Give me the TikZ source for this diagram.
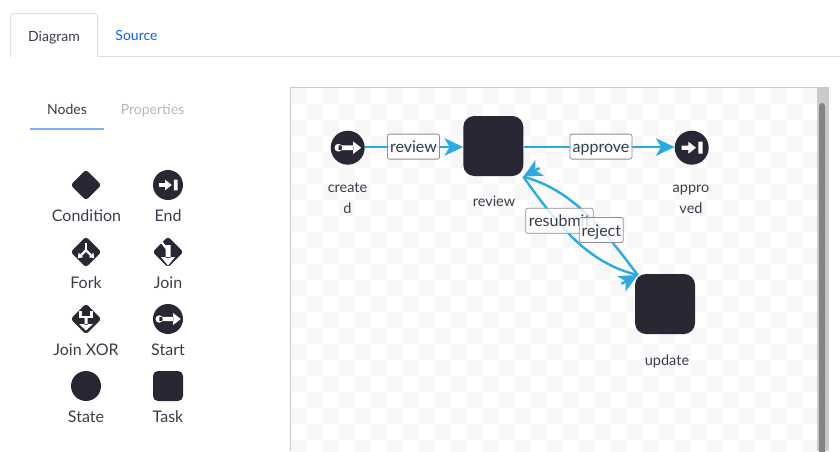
\documentclass[tikz,border=0pt]{standalone}
\usepackage{fontspec}
\setmainfont{Lato}
\usetikzlibrary{arrows.meta,shapes.geometric}
\definecolor{ink}{HTML}{272833}
\definecolor{txt}{HTML}{3B3C4A}
\definecolor{lnk}{HTML}{0B5FFF}
\definecolor{muted}{HTML}{B5B7C4}
\definecolor{under}{HTML}{80ACFF}
\definecolor{edgeblue}{HTML}{29ABE2}
\definecolor{tabline}{HTML}{DEDFE3}
\definecolor{checker}{HTML}{F7F7F7}
\definecolor{frameline}{HTML}{CBCBCB}
\definecolor{thumb}{HTML}{828686}
\definecolor{labelline}{HTML}{8F8F8F}
\tikzset{
  x=1pt,y=-1pt,
  txtlabel/.style={anchor=base,inner sep=0,text=txt,font=\fontsize{14}{17}\selectfont},
  pallabel/.style={anchor=base,inner sep=0,text=txt,font=\fontsize{16}{18}\selectfont},
  canvaslabel/.style={anchor=base,inner sep=0,text=txt,font=\fontsize{14.5}{17}\selectfont},
  palcircle/.style={circle,fill=ink,inner sep=0,minimum size=30},
  paldiamond/.style={diamond,aspect=1,fill=ink,inner sep=0,minimum size=31,rounded corners=3},
  palsquare/.style={rectangle,fill=ink,inner sep=0,minimum size=30,rounded corners=5},
  bigcircle/.style={circle,fill=ink,inner sep=0,minimum size=34},
  bigsquare/.style={rectangle,fill=ink,inner sep=0,minimum size=60,rounded corners=11},
  flowline/.style={draw=edgeblue,line width=2.4},
  flow/.style={flowline,-{Stealth[length=18.5,width=17.5,inset=5]}},
  edgelabel/.style={draw=labelline,line width=.8,fill=white,fill opacity=.82,draw opacity=1,text opacity=1,
    rectangle,rounded corners=2,inner sep=0,text=txt,minimum height=25,text height=15,text depth=2.8,font=\fontsize{16}{18}\selectfont},
  icon/.style={white,line width=2.2,line cap=butt},
  iconfill/.style={fill=white,draw=none}
}
\newcommand{\myendglyph}[2]{\fill[iconfill,shift={(#1)},scale=#2] (-10,-2.2) -- (-3.3,-2.2) -- (-3.3,-6) -- (4.3,0) -- (-3.3,6) -- (-3.3,2.2) -- (-10,2.2) -- cycle (6.7,-6) rectangle (11,6);}
\newcommand{\mystartglyph}[2]{\fill[iconfill,shift={(#1)},scale=#2] (-9.3,0) circle (3.9) (-9,-2.3) rectangle (6,2.3) (5.5,-6.2) -- (13.5,0) -- (5.5,6.2) -- cycle;}
\begin{document}
\begin{tikzpicture}
\useasboundingbox (0,0) rectangle (840,451);
\fill[white] (0,0) rectangle (840,451);
% tabs
\draw[tabline,line width=1] (97.5,56.5) -- (840,56.5);
\draw[tabline,line width=1,rounded corners=3] (10.5,57) -- (10.5,13.5) -- (97.5,13.5) -- (97.5,57);
\node[txtlabel] (tabdiagram) at (54,41) {Diagram};
\node[txtlabel,text=lnk] (tabsource) at (136.5,40) {Source};
\node[txtlabel] (tabnodes) at (67,114) {Nodes};
\node[txtlabel,text=muted] (tabprops) at (152.5,114) {Properties};
\fill[under] (30,128) rectangle (104,130);
% palette
\node[paldiamond] (pcond) at (86,185) {};
\node[palcircle] (pend) at (168,185) {};
\myendglyph{168,185}{.88}
\node[paldiamond] (pfork) at (86,252) {};
\fill[iconfill,shift={(86,252)}] (-1.2,-9) rectangle (1.2,-1);
\draw[icon,shift={(86,252)}] (0,-1.8) -- (-5,3.2) (0,-1.8) -- (5,3.2);
\fill[iconfill,shift={(86,252)}] (-8.2,6.2) -- (-7.4,0.6) -- (-2.8,5.2) -- cycle (8.2,6.2) -- (7.4,0.6) -- (2.8,5.2) -- cycle;
\node[paldiamond] (pjoin) at (168,252) {};
\fill[iconfill,shift={(168,252)}] (-2.5,-7) rectangle (2.5,6) (-7,5) -- (7,5) -- (0,13.5) -- cycle;
\draw[icon,shift={(168,252)}] (-6.3,-9.7) -- (0,-1.7);
\node[paldiamond] (pxor) at (86,319) {};
\draw[icon,shift={(86,319)}] (-5.5,-8) -- (-5.5,-2.3) -- (5.5,-2.3) -- (5.5,-8);
\fill[iconfill,shift={(86,319)}] (-1.5,-3) rectangle (1.5,6) (-7,5) -- (7,5) -- (0,11.5) -- cycle;
\node[palcircle] (pstart) at (168,319) {};
\mystartglyph{168,319}{.95}
\node[palcircle] (pstate) at (86,386) {};
\node[palsquare] (ptask) at (168,386) {};
\node[pallabel] (lcond) at (86.5,221) {Condition};
\node[pallabel] (lend) at (168,221) {End};
\node[pallabel] (lfork) at (86,288) {Fork};
\node[pallabel] (ljoin) at (168,288) {Join};
\node[pallabel] (lxor) at (86,355) {Join XOR};
\node[pallabel] (lstart) at (168,355) {Start};
\node[pallabel] (lstate) at (86,422) {State};
\node[pallabel] (ltask) at (168,422) {Task};
% canvas
\begin{scope}
\clip (291,88) rectangle (817,451);
\foreach \i in {0,...,33}{\foreach \j in {0,...,23}{
  \pgfmathtruncatemacro{\odd}{mod(\i+\j,2)}
  \ifnum\odd=0 \fill[checker] (290.7+\i*16,88+\j*16) rectangle +(16,16); \fi
}}
\end{scope}
\draw[frameline,line width=1] (290.5,451) -- (290.5,87.5) -- (829,87.5);
\fill[frameline] (817,88) rectangle (829,451);
\fill[thumb,rounded corners=3] (819,103) rectangle (825,460);
% diagram
\node[bigcircle] (created) at (347.7,147.7) {};
\node[bigsquare] (review) at (493.3,146) {};
\node[bigcircle] (approved) at (691.7,147.7) {};
\node[bigsquare] (update) at (665,304) {};
\mystartglyph{347.7,147.7}{1}
\myendglyph{691.7,147.7}{1}
\coordinate (revcorner) at (523.3,176.7);
\coordinate (updcorner) at (637.7,275);
\coordinate (revtail) at (539.6,167.9);
\coordinate (updtail) at (621.4,283.8);
\draw[flow] (created.east |- 0,147) -- (review.west |- 0,147);
\draw[flow] (review.east |- 0,147) -- (approved.west |- 0,147);
\draw[flowline] (revcorner) .. controls (557,224) and (587,263) .. (updcorner);
\draw[flowline] (updcorner) .. controls (603,229) and (573,190) .. (revcorner);
\draw[flow] (updtail) -- (updcorner);
\draw[flow] (revtail) -- (revcorner);
\node[edgelabel,minimum width=52] (lbla) at (413.5,146.6) {review};
\node[edgelabel,minimum width=62] (lblb) at (601,146.6) {approve};
\node[edgelabel,minimum width=67.5] (lblc) at (559.5,220.8) {resubmit};
\node[edgelabel,minimum width=44] (lbld) at (601.3,230) {reject};
\node[canvaslabel] (t1) at (347.5,192.3) {create};
\node[canvaslabel] (t2) at (347.5,213) {d};
\node[canvaslabel] (t3) at (494,206.7) {review};
\node[canvaslabel] (t4) at (691,192.3) {appro};
\node[canvaslabel] (t5) at (691,213) {ved};
\node[canvaslabel] (t6) at (667,365) {update};
\end{tikzpicture}
\end{document}
